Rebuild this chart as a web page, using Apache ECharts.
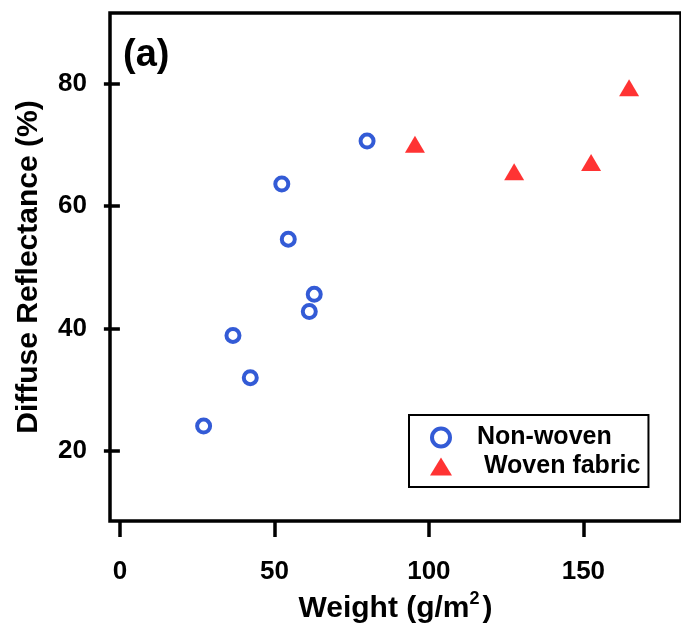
<!DOCTYPE html>
<html>
<head>
<meta charset="utf-8">
<script src="https://cdn.jsdelivr.net/npm/echarts@6/dist/echarts.min.js"></script>
<style>
  html, body { margin: 0; padding: 0; background: #fff; }
  #chart { width: 681px; height: 629px; }
</style>
</head>
<body>
<div id="chart"></div>
<script>
// weight (g/m2) and diffuse reflectance (%)
const nonWovenWeight = [27.1, 36.6, 42.2, 52.4, 54.5, 61.3, 62.9, 80.0];
const nonWovenRefl = [24.1, 38.9, 32.0, 63.6, 54.6, 42.8, 45.6, 70.6];
const wovenWeight = [95.5, 127.6, 152.5, 164.8];
const wovenRefl = [70.1, 65.6, 67.1, 79.3];
const xTicks = [0, 50, 100, 150];
const yTicks = [20, 40, 60, 80];

const font = "Liberation Sans";
const blue = "#0032cc";
const red = "#ff0000";

const chart = echarts.init(document.getElementById("chart"));

const toPairs = (xs, ys) => xs.map((x, i) => [x, ys[i]]);

chart.setOption({
  animation: false,
  backgroundColor: "#fff",
  textStyle: { fontFamily: font, fontWeight: "bold", color: "#000" },
  grid: {
    left: 110,
    top: 13,
    bottom: 99,
    right: -4,
    show: true,
    borderColor: "#000",
    borderWidth: 3.5,
  },
  graphic: [
    {
      type: "text",
      left: 123,
      top: 37,
      style: { text: "(a)", font: "bold 38px " + font, fill: "#000" },
    },
  ],
  legend: {
    orient: "vertical",
    left: 409,
    top: 415,
    padding: [10, 8, 8, 21],
    borderColor: "#000",
    borderWidth: 2,
    itemWidth: 22,
    itemHeight: 18,
    itemGap: 4,
    formatter: (name) => (name === "Woven fabric" ? " " + name : name),
    textStyle: {
      fontFamily: font,
      fontWeight: "bold",
      fontSize: 25,
      lineHeight: 25,
      color: "#000",
      padding: [0, 0, 0, 20],
    },
    data: [
      {
        name: "Non-woven",
        icon: "circle",
        itemStyle: { color: "#fff", borderColor: blue, borderWidth: 4 },
      },
      { name: "Woven fabric", icon: "triangle", itemStyle: { color: red } },
    ],
  },
  xAxis: {
    type: "value",
    min: -3.2,
    max: 181.6,
    name: "Weight (g/m{sup|2}{par|)}",
    nameLocation: "middle",
    nameGap: 68,
    nameTextStyle: {
      fontFamily: font,
      fontWeight: "bold",
      fontSize: 30,
      color: "#000",
      rich: {
        sup: { fontSize: 18, fontWeight: "bold", fontFamily: font, padding: [0, 3, 20, 0] },
        par: { fontSize: 30, fontWeight: "bold", fontFamily: font },
      },
    },
    splitLine: { show: false },
    axisLine: { show: false },
    axisTick: {
      show: true,
      inside: false,
      length: 16,
      lineStyle: { color: "#000", width: 3.5 },
      customValues: xTicks,
    },
    axisLabel: {
      fontFamily: font,
      fontWeight: "bold",
      fontSize: 26,
      color: "#000",
      margin: 38,
      customValues: xTicks,
    },
  },
  yAxis: {
    type: "value",
    min: 8.6,
    max: 91.5,
    name: "Diffuse Reflectance (%)",
    nameLocation: "middle",
    nameGap: 66,
    nameTextStyle: {
      fontFamily: font,
      fontWeight: "bold",
      fontSize: 30,
      color: "#000",
    },
    splitLine: { show: false },
    axisLine: { show: false },
    axisTick: {
      show: true,
      inside: false,
      length: 16,
      lineStyle: { color: "#000", width: 3.5 },
      customValues: yTicks,
    },
    axisLabel: {
      fontFamily: font,
      fontWeight: "bold",
      fontSize: 26,
      color: "#000",
      margin: 23,
      customValues: yTicks,
    },
  },
  series: [
    {
      name: "Non-woven",
      type: "scatter",
      symbol: "circle",
      symbolSize: 13,
      itemStyle: { color: "#fff", borderColor: blue, borderWidth: 4 },
      data: toPairs(nonWovenWeight, nonWovenRefl),
    },
    {
      name: "Woven fabric",
      type: "scatter",
      symbol: "triangle",
      symbolSize: [20, 17],
      itemStyle: { color: red },
      data: toPairs(wovenWeight, wovenRefl),
    },
  ],
});
</script>
</body>
</html>
